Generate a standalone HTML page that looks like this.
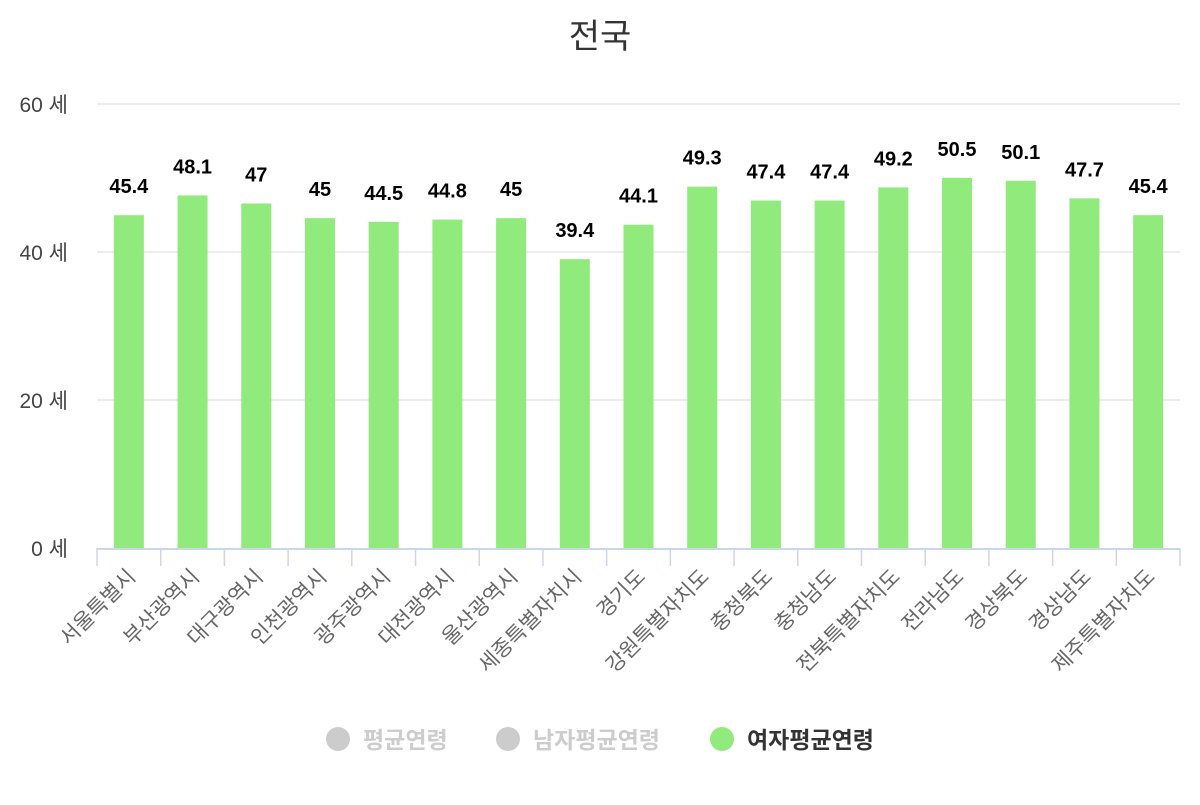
<!DOCTYPE html>
<html><head><meta charset="utf-8"><style>
body{margin:0;background:#fff;width:1200px;height:800px;overflow:hidden}
svg text{font-family:"Liberation Sans","Noto Sans CJK KR",sans-serif}
</style></head><body>
<svg id="c" width="1200" height="800">
<text x="600" y="48" text-anchor="middle" font-size="34" fill="#333">전국</text>
<g id="grid"></g><g id="bars"></g><g id="xl"></g>
<g>
<g><circle cx="338" cy="739" r="12" fill="#ccc"/><text x="363" y="748" font-size="23" font-weight="bold" fill="#ccc">평균연령</text></g>
<g><circle cx="508" cy="739" r="12" fill="#ccc"/><text x="533" y="748" font-size="23" font-weight="bold" fill="#ccc">남자평균연령</text></g>
<g><circle cx="722" cy="739" r="12" fill="#90ea7c"/><text x="747" y="748" font-size="23" font-weight="bold" fill="#333">여자평균연령</text></g>
</g>
</svg>
<script>
const categories=["서울특별시","부산광역시","대구광역시","인천광역시","광주광역시","대전광역시","울산광역시","세종특별자치시","경기도","강원특별자치도","충청북도","충청남도","전북특별자치도","전라남도","경상북도","경상남도","제주특별자치도"];
const values=[45.4,48.1,47,45,44.5,44.8,45,39.4,44.1,49.3,47.4,47.4,49.2,50.5,50.1,47.7,45.4];
const ticks=[0,20,40,60];
const NS="http://www.w3.org/2000/svg";
const x0=97,x1=1180,y0=548,scale=7.33,bw=(x1-x0)/categories.length;
const y=v=>y0-v*scale;
function mk(t,a,p){const e=document.createElementNS(NS,t);for(const k in a)e.setAttribute(k,a[k]);p.appendChild(e);return e;}
const g=document.getElementById('grid'),b=document.getElementById('bars'),xl=document.getElementById('xl');
ticks.forEach(t=>{
 const gy=y0-t*7.4;
 if(t>0){const l=mk('line',{x1:x0,x2:x1,y1:gy,y2:gy,stroke:'#e6e6e6','stroke-width':1.5},g);
 
 }
 const tx=mk('text',{x:68,y:gy+8,'text-anchor':'end','font-size':21,fill:'#444'},g);tx.textContent=t+' 세';
 
 
});
const ax=mk('line',{x1:x0,x2:x1,y1:y0+1,y2:y0+1,stroke:'#ccd6eb','stroke-width':2},g);


for(let i=0;i<=categories.length;i++){const t=mk('line',{x1:x0+i*bw,x2:x0+i*bw,y1:y0,y2:y0+18,stroke:'#ccd6eb','stroke-width':1.5},g);
 
 }
categories.forEach((c,i)=>{
 const cx=x0+(i+0.5)*bw,v=values[i];
 const r=mk('rect',{x:cx-15,y:y(v),width:30,height:y0-y(v),fill:'#90ea7c'},b);
 
 
 const vl=mk('text',{x:cx,y:y(v)-22,'text-anchor':'middle','font-size':20,'font-weight':'bold',fill:'#000'},b);vl.textContent=v;
 
 
 const tl=mk('text',{x:cx+8,y:y0+30,'text-anchor':'end','font-size':21,fill:'#666',transform:`rotate(-45 ${cx+8} ${y0+30})`},xl);tl.textContent=c;
 
 
});
</script>
</body></html>
